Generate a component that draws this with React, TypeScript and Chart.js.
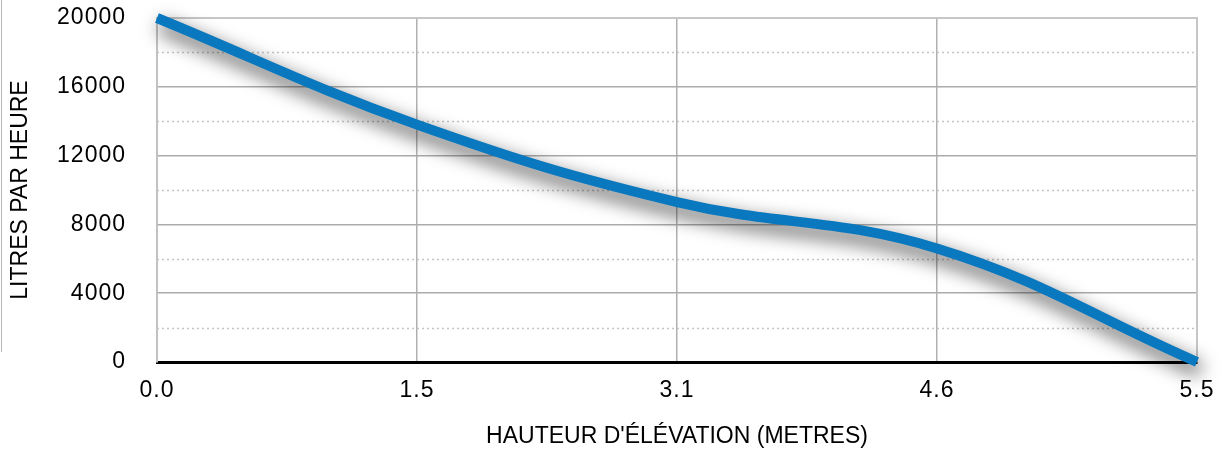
import React, { useEffect, useRef } from "react";
import { Chart, registerables } from "chart.js";

Chart.register(...registerables);

const categories = ["0.0", "1.5", "3.1", "4.6", "5.5"];
const litresPerHour = [20000, 13800, 9300, 6600, 0];
const yMajorTicks = [0, 4000, 8000, 12000, 16000, 20000];
const yMinorTicks = [2000, 6000, 10000, 14000, 18000];
const xTitle = "HAUTEUR D'ÉLÉVATION (METRES)";
const yTitle = "LITRES PAR HEURE";

const FONT = "'Liberation Sans', Arial, sans-serif";
const TICK_SPACING = "1px";

export default function App() {
  const ref = useRef<HTMLCanvasElement | null>(null);

  useEffect(() => {
    document.body.style.margin = "0";
    const canvas = ref.current;
    if (!canvas) return;

    const decorPlugin = {
      id: "decor",
      beforeLayout(chart: any) {
        (chart.ctx as any).letterSpacing = TICK_SPACING;
      },
      beforeDraw(chart: any) {
        (chart.ctx as any).letterSpacing = TICK_SPACING;
      },
      beforeDatasetsDraw(chart: any) {
        const { ctx, chartArea, scales } = chart;
        const y = scales.y;
        ctx.save();
        ctx.strokeStyle = "#c4c4c4";
        ctx.lineWidth = 1.5;
        ctx.setLineDash([2, 3]);
        yMinorTicks.forEach((v) => {
          const py = Math.round(y.getPixelForValue(v)) + 0.5;
          ctx.beginPath();
          ctx.moveTo(chartArea.left, py);
          ctx.lineTo(chartArea.right, py);
          ctx.stroke();
        });
        ctx.setLineDash([]);
        ctx.strokeStyle = "#c6c6c6";
        ctx.lineWidth = 2;
        ctx.beginPath();
        ctx.moveTo(chartArea.left, chartArea.top);
        ctx.lineTo(chartArea.right, chartArea.top);
        ctx.lineTo(chartArea.right, chartArea.bottom);
        ctx.stroke();
        ctx.strokeStyle = "#b8b8b8";
        ctx.lineWidth = 1;
        ctx.beginPath();
        ctx.moveTo(1.5, 0);
        ctx.lineTo(1.5, 352);
        ctx.stroke();
        ctx.restore();

        // soft drop shadow of the series line, using the line element's own path
        const line: any = chart.getDatasetMeta(0).dataset;
        if (line && typeof line.path === "function") {
          ctx.save();
          (ctx as any).filter = "blur(9px)";
          ctx.translate(3, 8);
          ctx.beginPath();
          line.path(ctx);
          ctx.strokeStyle = "rgba(0,0,0,0.55)";
          ctx.lineWidth = 14;
          ctx.lineCap = "butt";
          ctx.stroke();
          ctx.restore();
        }
      },
      afterDraw(chart: any) {
        const { ctx, chartArea } = chart;
        ctx.save();
        (ctx as any).letterSpacing = "0px";
        ctx.fillStyle = "#000000";
        ctx.font = `23px ${FONT}`;
        ctx.textAlign = "center";
        ctx.textBaseline = "middle";
        ctx.fillText(xTitle, (chartArea.left + chartArea.right) / 2, 437);
        ctx.translate(21, (chartArea.top + chartArea.bottom) / 2);
        ctx.rotate(-Math.PI / 2);
        ctx.fillText(yTitle, 0, 0);
        ctx.restore();
      },
    };

    const chart = new Chart(canvas, {
      type: "line",
      data: {
        labels: categories,
        datasets: [
          {
            data: litresPerHour,
            borderColor: "#0a78be",
            borderWidth: 10,
            pointRadius: 0,
            tension: 0.4,
            fill: false,
            clip: false as any,
            borderCapStyle: "butt",
          },
        ],
      },
      options: {
        animation: false,
        responsive: false,
        maintainAspectRatio: false,
        layout: { padding: { top: 18, right: 33, left: 0, bottom: 0 } },
        plugins: { legend: { display: false }, tooltip: { enabled: false } },
        scales: {
          x: {
            offset: false,
            grid: {
              color: (c: any) =>
                c.index === categories.length - 1 ? "#c6c6c6" : "#b0b0b0",
              lineWidth: 1.5,
              drawTicks: false,
            },
            border: { color: "#000000", width: 3 },
            ticks: {
              color: "#000000",
              font: { family: FONT, size: 23 },
              padding: 15,
              maxRotation: 0,
            },
            afterFit: (s: any) => {
              s.height = 88;
              s.paddingLeft = 0;
              s.paddingRight = 0;
            },
          },
          y: {
            min: 0,
            max: 20000,
            afterBuildTicks: (s: any) => {
              s.ticks = yMajorTicks.map((v) => ({ value: v }));
            },
            grid: {
              color: (c: any) =>
                c.tick && c.tick.value === 20000 ? "#c6c6c6" : "#ababab",
              lineWidth: 1.5,
              drawTicks: false,
            },
            border: { color: "#c2c2c2", width: 2 },
            ticks: {
              color: "#000000",
              font: { family: FONT, size: 23 },
              padding: 31,
              callback: (v: any) => String(v),
            },
            afterFit: (s: any) => {
              s.width = 157;
              s.paddingTop = 0;
              s.paddingBottom = 0;
            },
          },
        },
      },
      plugins: [decorPlugin],
    });

    return () => chart.destroy();
  }, []);

  return (
    <div style={{ width: 1230, height: 450 }}>
      <canvas ref={ref} width={1230} height={450} style={{ display: "block" }} />
    </div>
  );
}
